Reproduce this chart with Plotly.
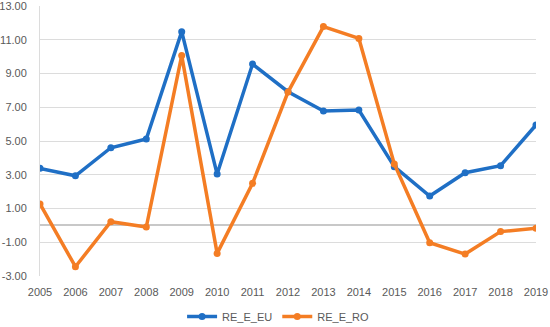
import plotly.graph_objects as go

years = list(range(2005, 2020))
re_e_eu = [3.38, 2.94, 4.60, 5.12, 11.48, 3.04, 9.56, 7.92, 6.78, 6.84, 3.48, 1.74, 3.12, 3.54, 5.95]
re_e_ro = [1.27, -2.45, 0.22, -0.10, 10.06, -1.66, 2.49, 7.90, 11.78, 11.08, 3.64, -1.03, -1.70, -0.37, -0.17]
y_ticks = [-3, -1, 1, 3, 5, 7, 9, 11, 13]

fig = go.Figure()
fig.add_trace(go.Scatter(x=years, y=re_e_eu, name="RE_E_EU", mode="lines+markers",
                         line=dict(color="#1f6fc5", width=3.5), marker=dict(size=7, color="#1f6fc5")))
fig.add_trace(go.Scatter(x=years, y=re_e_ro, name="RE_E_RO", mode="lines+markers",
                         line=dict(color="#f47d24", width=3.5), marker=dict(size=7, color="#f47d24")))

fig.update_layout(
    width=550, height=327,
    margin=dict(l=40, r=14, t=6, b=51, autoexpand=False),
    paper_bgcolor="white", plot_bgcolor="white",
    font=dict(family="Liberation Sans, Arial, sans-serif", size=11, color="#595959"),
    showlegend=True,
    legend=dict(orientation="h", x=0.48, xanchor="center", y=-0.15, yanchor="middle",
                font=dict(size=11, color="#595959"), itemwidth=30),
    xaxis=dict(range=[2005, 2019], tickmode="array", tickvals=years, ticktext=[str(y) for y in years],
               showgrid=False, zeroline=False, showline=False, ticks="", ticklabelstandoff=8,
               automargin=False, ticklabeloverflow="allow"),
    yaxis=dict(range=[-3, 13], tickmode="array", tickvals=y_ticks,
               ticktext=[f"{v:.2f}" for v in y_ticks],
               showgrid=True, gridcolor="#dcdcdc", gridwidth=1,
               zeroline=True, zerolinecolor="#c8c8c8", zerolinewidth=1.5,
               showline=True, linecolor="#dcdcdc", linewidth=1, ticks="", ticklabelstandoff=10,
               automargin=False, ticklabeloverflow="allow"),
)

fig.write_html("out.html", config={"displayModeBar": False},
               post_script="document.body.style.margin='0';document.body.style.overflow='hidden';")
